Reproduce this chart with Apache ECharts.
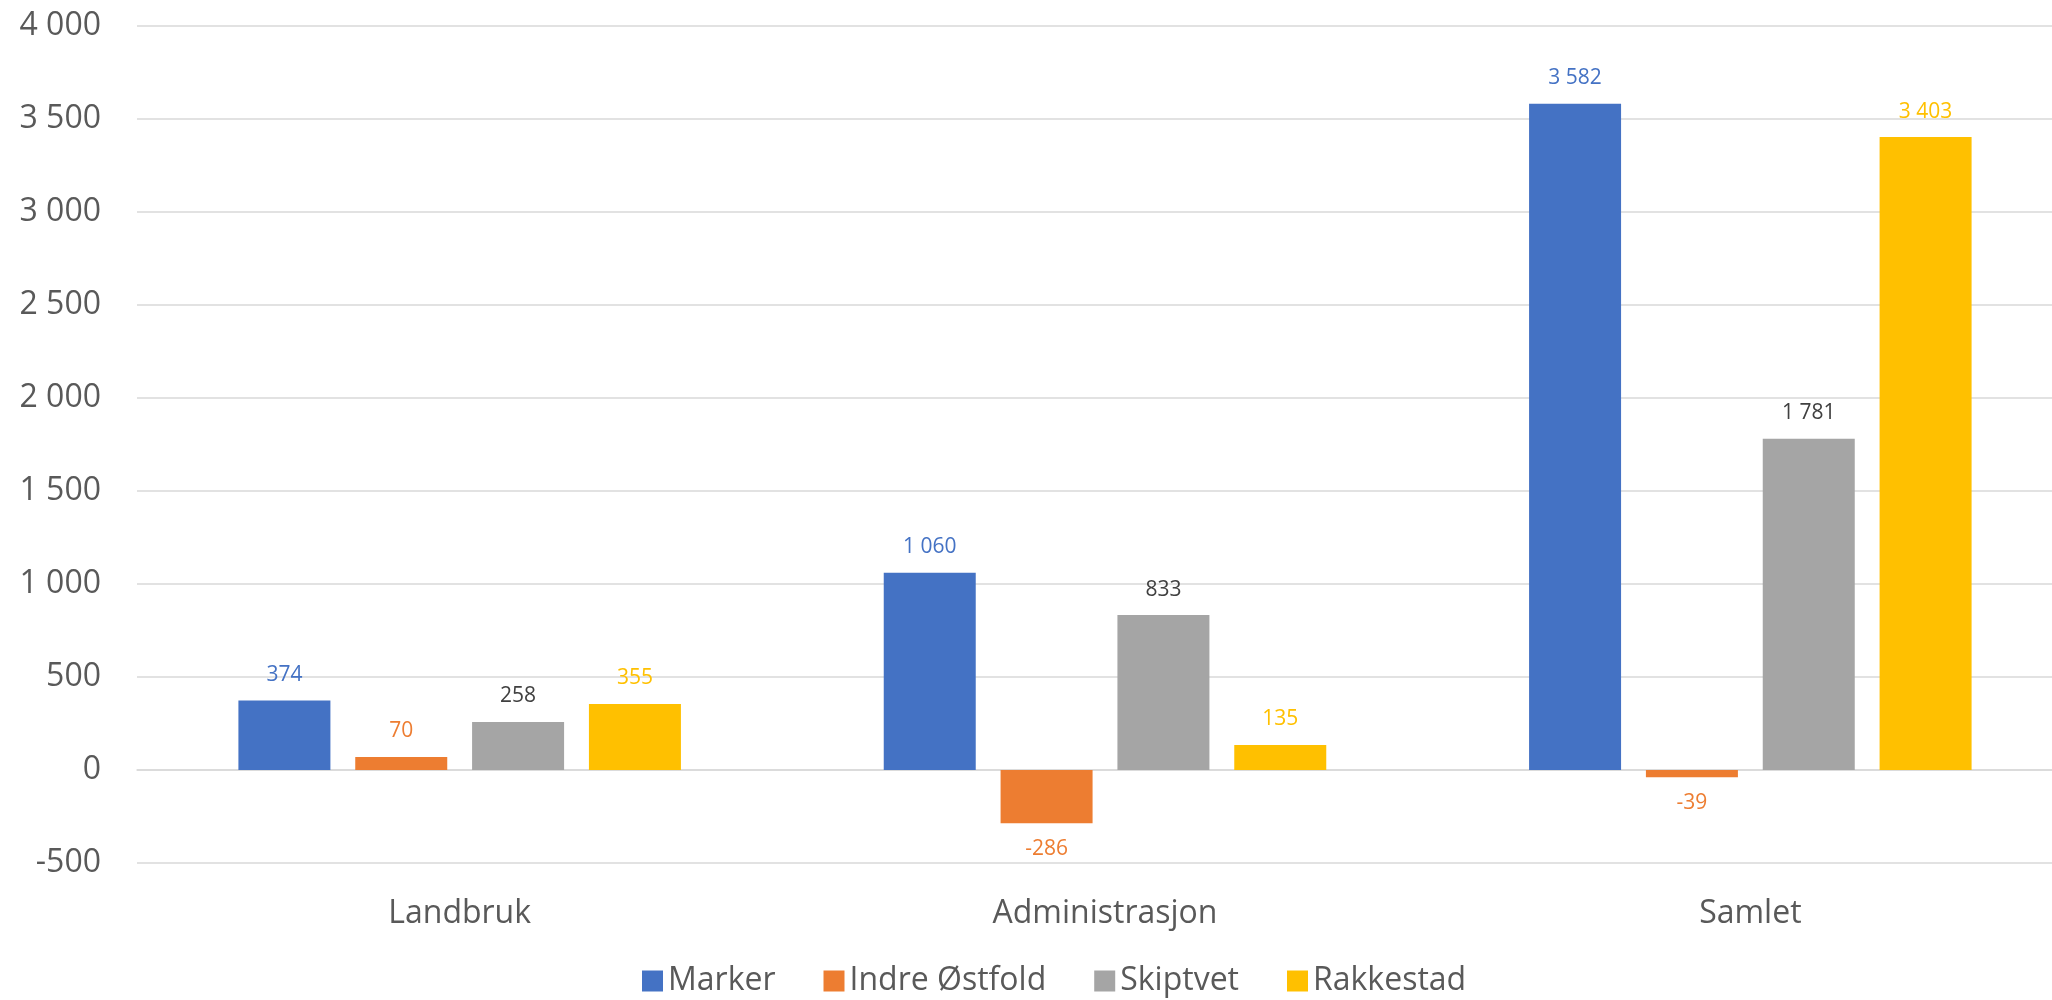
<!DOCTYPE html>
<html>
<head>
<meta charset="utf-8">
<script src="https://cdn.jsdelivr.net/npm/echarts@6/dist/echarts.min.js"></script>
<style>
html,body{margin:0;padding:0;background:#fff;overflow:hidden;width:2052px;height:1000px;}
#chart{width:2073px;height:1000px;}
</style>
</head>
<body>
<div id="chart"></div>
<script>
const categories = ['Landbruk', 'Administrasjon', 'Samlet'];
const seriesNames = ['Marker', 'Indre Østfold', 'Skiptvet', 'Rakkestad'];
const marker = [374, 1060, 3582];
const indreOstfold = [70, -286, -39];
const skiptvet = [258, 833, 1781];
const rakkestad = [355, 135, 3403];
const barColors = ['#4472C4', '#ED7D31', '#A5A5A5', '#FFC000'];
const labelColors = ['#4472C4', '#ED7D31', '#404040', '#FFC000'];
const yMin = -500, yMax = 4000, yStep = 500;

function fmt(v) {
  const s = String(Math.abs(v)).replace(/\B(?=(\d{3})+(?!\d))/g, ' ');
  return (v < 0 ? '-' : '') + s;
}

const values = [marker, indreOstfold, skiptvet, rakkestad];
const FONT = '"Open Sans", "Noto Sans", sans-serif';

const series = values.map((vals, i) => ({
  name: seriesNames[i],
  type: 'bar',
  barWidth: 92,
  barGap: '27%',
  itemStyle: { color: barColors[i] },
  data: vals.map(v => ({
    value: v,
    label: { position: v < 0 ? 'bottom' : 'top' }
  })),
  label: {
    show: true,
    distance: 15,
    color: labelColors[i],
    fontSize: 21,
    lineHeight: 21,
    fontFamily: FONT,
    formatter: p => fmt(p.value)
  }
}));

const chart = echarts.init(document.getElementById('chart'), null, { renderer: 'canvas' });
chart.setOption({
  backgroundColor: '#ffffff',
  animation: false,
  textStyle: { fontFamily: FONT },
  grid: { left: 137, right: 0, top: 26, bottom: 137, containLabel: false },
  legend: {
    data: seriesNames,
    left: 637,
    top: 960,
    icon: 'rect',
    itemWidth: 21,
    itemHeight: 21,
    itemGap: 48,
    textStyle: { fontSize: 32, color: '#595959', fontFamily: FONT }
  },
  xAxis: {
    type: 'category',
    data: categories,
    axisLine: { show: true, lineStyle: { color: '#D9D9D9', width: 1.5 } },
    axisTick: { show: false },
    axisLabel: { fontSize: 32, color: '#595959', margin: 35, fontFamily: FONT }
  },
  yAxis: {
    type: 'value',
    min: yMin,
    max: yMax,
    interval: yStep,
    axisLine: { show: false },
    axisTick: { show: false },
    splitLine: { lineStyle: { color: '#D9D9D9', width: 1.5 } },
    axisLabel: { fontSize: 32, color: '#595959', margin: 36, fontFamily: FONT, formatter: v => fmt(v) }
  },
  series: series
});
</script>
</body>
</html>
